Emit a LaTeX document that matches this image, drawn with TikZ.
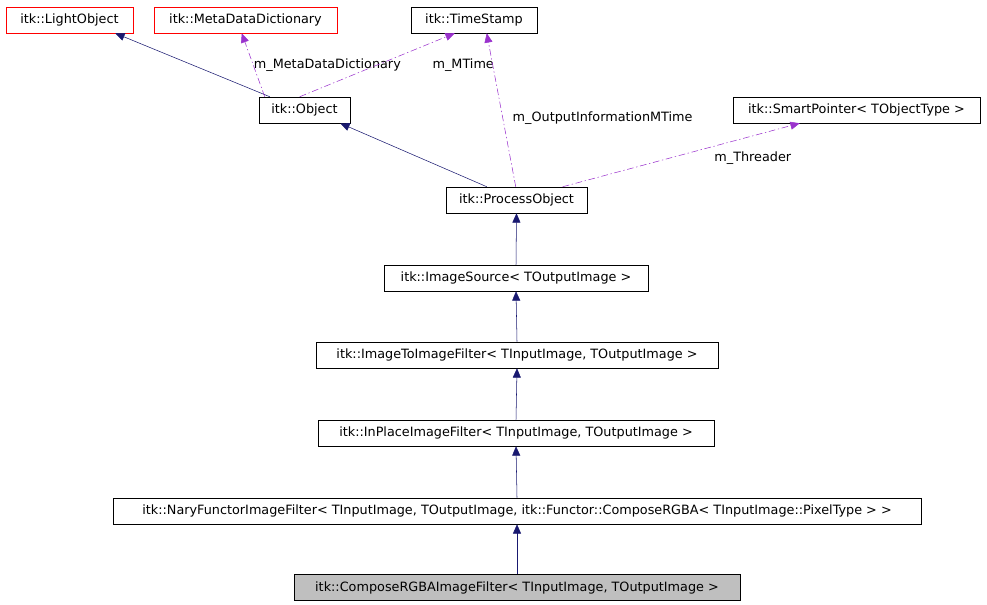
\documentclass[tikz,border=0pt]{standalone}
\usepackage{fontspec}
\setsansfont{DejaVu Sans}
\usetikzlibrary{calc,arrows.meta}
\definecolor{inh}{HTML}{191970}
\definecolor{use}{HTML}{9A32CD}
\tikzset{ cls/.style = { draw
                       , rectangle
                       , inner sep    = 0pt
                       , minimum height = 19.5pt
                       , font = \sffamily\fontsize{9.6}{11}\selectfont
                       },
          ext/.style = { cls
                       , draw = red
                       },
          inh/.style = { draw = inh
                       , -{Triangle[length=7pt,width=6pt]}
                       },
          use/.style = { draw = use
                       , dash pattern = on 5pt off 2pt on 1pt off 2pt
                       , -{Triangle[length=7pt,width=6pt]}
                       },
          lbl/.style = { font = \sffamily\fontsize{9.6}{11}\selectfont }
        }
\begin{document}
\begin{tikzpicture}[x=0.75pt, y=-0.75pt]
          \useasboundingbox (0,0) rectangle (987,605);
          \node[ext, minimum width=95.25pt]  (light) at (69.5,20)  {itk::LightObject};
          \node[ext, minimum width=137.25pt] (meta)  at (245.5,20) {itk::MetaDataDictionary};
          \node[cls, minimum width=94.5pt]   (time)  at (474,20)   {itk::TimeStamp};
          \node[cls, minimum width=68.25pt]  (obj)   at (304.5,110) {itk::Object};
          \node[cls, minimum width=185.25pt] (smart) at (856.5,110) {itk::SmartPointer< TObjectType >};
          \node[cls, minimum width=105.75pt] (proc)  at (516.5,200) {itk::ProcessObject};
          \node[cls, minimum width=198pt]    (src)   at (516,278)  {itk::ImageSource< TOutputImage >};
          \node[cls, minimum width=301.5pt]  (i2i)   at (517,355)  {itk::ImageToImageFilter< TInputImage, TOutputImage >};
          \node[cls, minimum width=297pt]    (inpl)  at (516,433)  {itk::InPlaceImageFilter< TInputImage, TOutputImage >};
          \node[cls, minimum width=606pt]    (nary)  at (517,511)  {itk::NaryFunctorImageFilter< TInputImage, TOutputImage, itk::Functor::ComposeRGBA< TInputImage::PixelType > >};
          \node[cls, fill=black!25, minimum width=334.5pt] (comp) at (517,587.5) {itk::ComposeRGBAImageFilter< TInputImage, TOutputImage >};
          % inheritance
          \draw[inh] ($(obj.north west)+(11,0)$) -- ($(light.south east)+(-18,0)$);
          \draw[inh] ($(proc.north west)+(41,0)$) -- ($(obj.south east)+(-10,0)$);
          \foreach \a/\b in {comp/nary, nary/inpl, inpl/i2i, i2i/src, src/proc} {
            \draw[inh] (\a.north) -- (\b.south);
          }
          % members
          \draw[use] ($(obj.north west)+(6,0)$) -- ($(meta.south west)+(88,0)$)
                node[lbl, pos=0.5, right=-3pt] {m\_MetaDataDictionary};
          \draw[use] ($(obj.north west)+(41,0)$) -- ($(time.south west)+(44,0)$)
                node[lbl, pos=0.5, right=38pt] {m\_MTime};
          \draw[use] ($(proc.north west)+(70,0)$) -- ($(time.south west)+(76,0)$)
                node[lbl, pos=0.45, right=4pt] {m\_OutputInformationMTime};
          \draw[use] ($(proc.north west)+(117,0)$) -- ($(smart.south west)+(67,0)$)
                node[lbl, pos=0.62, below right] {m\_Threader};
        \end{tikzpicture}
\end{document}
